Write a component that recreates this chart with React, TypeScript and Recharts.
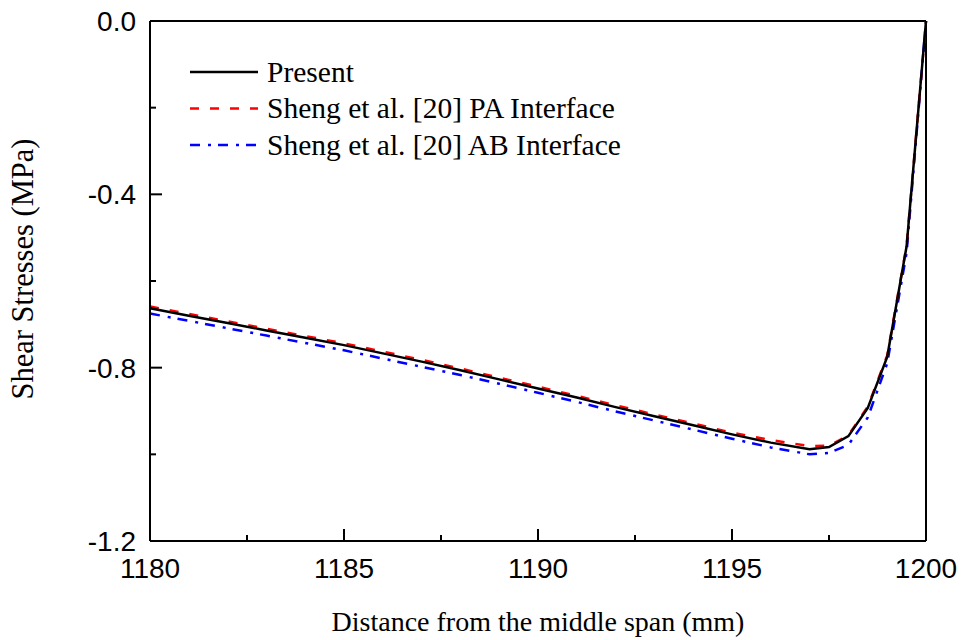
import { LineChart, Line, XAxis, YAxis, ReferenceLine, Label } from 'recharts';

// distance from the middle span (mm)
const distance = [
  1180, 1181, 1182, 1183, 1184, 1185, 1186, 1187, 1188, 1189, 1190,
  1191, 1192, 1193, 1194, 1195, 1196, 1197, 1197.5, 1198, 1198.5, 1199, 1199.5, 1200,
];

// shear stresses (MPa)
const present = [
  -0.663, -0.68, -0.697, -0.714, -0.731, -0.748, -0.767, -0.786, -0.806, -0.827, -0.848,
  -0.869, -0.891, -0.912, -0.933, -0.954, -0.973, -0.988, -0.983, -0.958, -0.893, -0.775, -0.52, 0,
];
const shengPA = [
  -0.659, -0.676, -0.693, -0.71, -0.727, -0.744, -0.763, -0.782, -0.802, -0.823, -0.844,
  -0.865, -0.887, -0.908, -0.929, -0.95, -0.967, -0.981, -0.98, -0.956, -0.89, -0.772, -0.518, 0,
];
const shengAB = [
  -0.675, -0.692, -0.709, -0.726, -0.743, -0.76, -0.779, -0.798, -0.817, -0.837, -0.858,
  -0.879, -0.901, -0.922, -0.943, -0.964, -0.984, -1.0, -0.997, -0.978, -0.915, -0.79, -0.535, 0,
];

const xTicks = [1180, 1182.5, 1185, 1187.5, 1190, 1192.5, 1195, 1197.5, 1200];
const yTicks = [-1.2, -1.0, -0.8, -0.6, -0.4, -0.2, 0];

const series = [
  { key: 'present', name: 'Present', color: '#000000', dash: undefined },
  { key: 'pa', name: 'Sheng et al. [20] PA Interface', color: '#ff0000', dash: '9 11' },
  { key: 'ab', name: 'Sheng et al. [20] AB Interface', color: '#0000ff', dash: '10 8 3 7' },
];

const data = distance.map((d, i) => ({
  x: d,
  present: present[i],
  pa: shengPA[i],
  ab: shengAB[i],
}));

const SANS = '"Liberation Sans", Arial, sans-serif';
const SERIF = '"Liberation Serif", "Times New Roman", serif';

const XTick = (props: any) => {
  const { x, y, payload } = props;
  const major = payload.value % 5 === 0;
  return (
    <g>
      <line x1={x} x2={x} y1={y} y2={y - (major ? 12 : 6)} stroke="#000" strokeWidth={2} />
      {major && (
        <text x={x} y={y + 37} textAnchor="middle" fontFamily={SANS} fontSize={28} fill="#000">
          {payload.value}
        </text>
      )}
    </g>
  );
};

const YTick = (props: any) => {
  const { x, y, payload } = props;
  const major = Math.round(payload.value * 10) % 4 === 0;
  return (
    <g>
      <line x1={x} x2={x + (major ? 12 : 6)} y1={y} y2={y} stroke="#000" strokeWidth={2} />
      {major && (
        <text x={x - 14} y={y + 10} textAnchor="end" fontFamily={SANS} fontSize={28} fill="#000">
          {payload.value.toFixed(1)}
        </text>
      )}
    </g>
  );
};

// legend drawn on top of the chart, inside the plot area
const LegendBox = () => (
  <svg
    width={480}
    height={110}
    style={{ position: 'absolute', left: 185, top: 55, display: 'block', pointerEvents: 'none' }}
  >
    {series.map((s, i) => (
      <g key={s.key}>
        <line
          x1={5}
          x2={73}
          y1={17 + i * 36.5}
          y2={17 + i * 36.5}
          stroke={s.color}
          strokeWidth={2.5}
          strokeDasharray={s.dash}
        />
        <text x={82} y={26.5 + i * 36.5} fontFamily={SERIF} fontSize={29.5} fill="#000">
          {s.name}
        </text>
      </g>
    ))}
  </svg>
);

export default function App() {
  return (
    <div style={{ position: 'absolute', left: 0, top: 0, width: 963, height: 640, background: '#fff' }}>
      <LineChart width={963} height={640} data={data} margin={{ top: 21, right: 37, bottom: 0, left: 0 }}>
        <XAxis
          dataKey="x"
          type="number"
          domain={[1180, 1200]}
          ticks={xTicks}
          interval={0}
          height={99}
          tickSize={0}
          tickMargin={0}
          tickLine={false}
          axisLine={{ stroke: '#000', strokeWidth: 2 }}
          tick={<XTick />}
        >
          <Label
            value="Distance from the middle span (mm)"
            position="insideBottom"
            offset={9}
            style={{ fontFamily: SERIF, fontSize: 28, fill: '#000' }}
          />
        </XAxis>
        <YAxis
          type="number"
          domain={[-1.2, 0]}
          ticks={yTicks}
          interval={0}
          width={150}
          tickSize={0}
          tickMargin={0}
          tickLine={false}
          axisLine={{ stroke: '#000', strokeWidth: 2 }}
          tick={<YTick />}
        >
          <Label
            content={() => (
              <text
                x={33}
                y={269}
                transform="rotate(-90 33 269)"
                textAnchor="middle"
                fontFamily={SERIF}
                fontSize={30.5}
                fill="#000"
              >
                Shear Stresses (MPa)
              </text>
            )}
          />
        </YAxis>
        <ReferenceLine y={0} stroke="#000" strokeWidth={2} />
        <ReferenceLine x={1200} stroke="#000" strokeWidth={2} />
        {/* black "Present" curve drawn last so it sits on top */}
        {[...series].reverse().map((s) => (
          <Line
            key={s.key}
            dataKey={s.key}
            name={s.name}
            type="linear"
            stroke={s.color}
            strokeWidth={2.5}
            strokeDasharray={s.dash}
            dot={false}
            activeDot={false}
            isAnimationActive={false}
          />
        ))}
      </LineChart>
      <LegendBox />
    </div>
  );
}
